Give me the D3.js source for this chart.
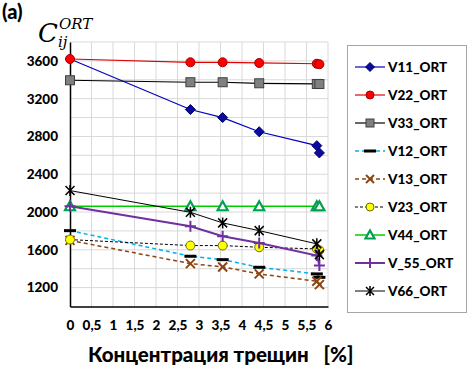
<!DOCTYPE html>
<html><head><meta charset="utf-8">
<script src="https://cdn.jsdelivr.net/npm/d3@7"></script>
<style>body{margin:0;background:#fff}</style>
</head><body>
<svg id="c" width="471" height="369"></svg>
<script>
const xVals = [0, 2.8, 3.55, 4.4, 5.74, 5.8];
const xTicks = [0,0.5,1,1.5,2,2.5,3,3.5,4,4.5,5,5.5,6];
const xTickLabels = ["0","0,5","1","1,5","2","2,5","3","3,5","4","4,5","5","5,5","6"];
const yTicks = [1200,1600,2000,2400,2800,3200,3600];
const seriesNames = ["V11_ORT","V22_ORT","V33_ORT","V12_ORT","V13_ORT","V23_ORT","V44_ORT","V_55_ORT","V66_ORT"];
const V11 = [3620, 3085, 3000, 2850, 2703, 2626];
const V22 = [3620, 3585, 3585, 3578, 3570, 3565];
const V33 = [3395, 3374, 3374, 3363, 3356, 3355];
const V12 = [1803, 1532, 1496, 1415, 1345, 1309];
const V13 = [1700, 1454, 1419, 1345, 1267, 1232];
const V23 = [1708, 1645, 1645, 1627, 1610, 1595];
const V44 = [2061, 2061, 2061, 2061, 2061, 2061];
const V55 = [2061, 1849, 1743, 1673, 1539, 1433];
const V66 = [2227, 1997, 1885, 1803, 1663, 1549];
const seriesValues = [V11,V22,V33,V12,V13,V23,V44,V55,V66];
const styles = [
 {line:"#0000c0", dash:null, w:1.2, marker:"diamond", fill:"#0a0aa0", stroke:"#000060"},
 {line:"#e00000", dash:null, w:1.2, marker:"circle", fill:"#ff0000", stroke:"#a00000"},
 {line:"#000000", dash:null, w:1.2, marker:"square", fill:"#808080", stroke:"#404040"},
 {line:"#00b0f0", dash:"4,3", w:1.5, marker:"bar", fill:"#000000", stroke:"#000000"},
 {line:"#8b4513", dash:"4,3", w:1.5, marker:"x", fill:"none", stroke:"#8b4513"},
 {line:"#000000", dash:"3,2", w:1, marker:"circle", fill:"#ffff00", stroke:"#707000"},
 {line:"#00cc00", dash:null, w:1.5, marker:"triangle", fill:"#ffffff", stroke:"#00a050"},
 {line:"#7030a0", dash:null, w:2, marker:"plus", fill:"none", stroke:"#7030a0"},
 {line:"#000000", dash:null, w:1, marker:"star", fill:"none", stroke:"#000000"}
];
const svg = d3.select("#c");
const x = d3.scaleLinear().domain([0,6]).range([70,328]);
const y = d3.scaleLinear().domain([1000,3800]).range([306.5,42]);
const font = "Lato, 'Open Sans', sans-serif";

// grid
const g = svg.append("g");
g.selectAll("line.v").data(d3.range(0.5,6.01,0.5)).enter().append("line")
 .attr("x1",d=>x(d)).attr("x2",d=>x(d)).attr("y1",y(3800)).attr("y2",y(1000))
 .attr("stroke","#d9d9d9").attr("stroke-width",1);
g.selectAll("line.h").data(d3.range(1200,3801,200)).enter().append("line")
 .attr("x1",x(0)).attr("x2",x(6)).attr("y1",d=>y(d)).attr("y2",d=>y(d))
 .attr("stroke","#d9d9d9").attr("stroke-width",1);

// axes
const yAxis = d3.axisLeft(y).tickValues(yTicks).tickFormat(d3.format("d")).tickSize(0).tickPadding(12);
const ya = svg.append("g").attr("transform",`translate(${x(0)},0)`).call(yAxis);
ya.select(".domain").attr("stroke","#000").attr("stroke-width",1.5);
ya.selectAll("text").attr("font-family",font).attr("font-weight","900").attr("font-size",13.5).attr("fill","#000");
const xAxis = d3.axisBottom(x).tickValues(xTicks).tickFormat((d,i)=>xTickLabels[i]).tickSize(0).tickPadding(14);
const xa = svg.append("g").attr("transform",`translate(0,${y(1000)})`).call(xAxis);
xa.select(".domain").attr("stroke","#000").attr("stroke-width",1.5);
xa.selectAll("text").attr("font-family",font).attr("font-weight","900").attr("font-size",13.5).attr("fill","#000");

function marker(sel, type, st, s){
  s = s||4.5;
  if(type==="circle") sel.append("circle").attr("r",s).attr("fill",st.fill).attr("stroke",st.stroke).attr("stroke-width",1);
  else if(type==="square") sel.append("rect").attr("x",-s).attr("y",-s).attr("width",2*s).attr("height",2*s).attr("fill",st.fill).attr("stroke",st.stroke).attr("stroke-width",1);
  else if(type==="diamond") sel.append("path").attr("d",`M0,${-s-0.5}L${s+0.5},0L0,${s+0.5}L${-s-0.5},0Z`).attr("fill",st.fill).attr("stroke",st.stroke).attr("stroke-width",1);
  else if(type==="bar") sel.append("rect").attr("x",-6).attr("y",-1.5).attr("width",12).attr("height",3).attr("fill","#000");
  else if(type==="x") sel.append("path").attr("d",`M${-s},${-s}L${s},${s}M${-s},${s}L${s},${-s}`).attr("stroke",st.stroke).attr("stroke-width",2);
  else if(type==="triangle") sel.append("path").attr("d",`M0,${-s-0.5}L${s+0.5},${s-0.5}L${-s-0.5},${s-0.5}Z`).attr("fill",st.fill).attr("stroke",st.stroke).attr("stroke-width",2.2);
  else if(type==="plus") sel.append("path").attr("d",`M${-s-1},0L${s+1},0M0,${-s-1}L0,${s+1}`).attr("stroke",st.stroke).attr("stroke-width",2);
  else if(type==="star") sel.append("path").attr("d",`M${-s},${-s}L${s},${s}M${-s},${s}L${s},${-s}M0,${-s-1}L0,${s+1}`).attr("stroke",st.stroke).attr("stroke-width",1.5);
}

const line = d3.line().x((d,i)=>x(xVals[i])).y(d=>y(d));
seriesValues.forEach((vals,k)=>{
  const st = styles[k];
  svg.append("path").datum(vals).attr("d",line).attr("fill","none")
    .attr("stroke",st.line).attr("stroke-width",st.w).attr("stroke-dasharray",st.dash);
  vals.forEach((v,i)=>{
    const m = svg.append("g").attr("transform",`translate(${x(xVals[i])},${y(v)})`);
    marker(m, st.marker, st);
  });
});

// legend
svg.append("rect").attr("x",347.5).attr("y",45.5).attr("width",119).attr("height",267)
 .attr("fill","#fff").attr("stroke","#a6a6a6").attr("stroke-width",1);
seriesNames.forEach((n,i)=>{
  const st = styles[i];
  const ly = 67 + i*28;
  svg.append("line").attr("x1",355).attr("x2",385).attr("y1",ly).attr("y2",ly)
    .attr("stroke",st.line).attr("stroke-width",st.w).attr("stroke-dasharray",st.dash);
  const m = svg.append("g").attr("transform",`translate(370,${ly})`);
  marker(m, st.marker, st, 4);
  svg.append("text").attr("x",388).attr("y",ly+4.5).text(n)
    .attr("font-family",font).attr("font-weight","900").attr("font-size",13.5).attr("fill","#000");
});

// titles
svg.append("text").attr("x",2).attr("y",19).text("(a)").attr("font-family",font).attr("font-weight","900").attr("font-size",20);
const ff = "'DejaVu Serif', serif";
svg.append("text").attr("x",38).attr("y",42).attr("font-size",26).attr("font-family",ff).attr("font-style","italic").text("C");
svg.append("text").attr("x",59).attr("y",29).attr("font-size",15).attr("font-family",ff).attr("font-style","italic").text("ORT");
svg.append("text").attr("x",58).attr("y",47).attr("font-size",15).attr("font-family",ff).attr("font-style","italic").text("ij");
svg.append("text").attr("x",88).attr("y",362).attr("xml:space","preserve").style("white-space","pre")
 .text("Концентрация трещин   [%]")
 .attr("font-family",font).attr("font-weight","900").attr("font-size",20.5).attr("fill","#000");
</script>
</body></html>
